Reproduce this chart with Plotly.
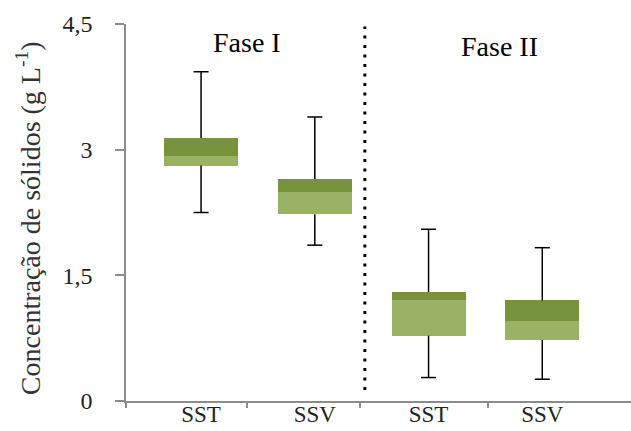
import plotly.graph_objects as go

# Summary statistics of solids concentration (g/L) per phase and fraction
categories = ["SST", "SSV", "SST", "SSV"]
phase_labels = ["Fase I", "Fase II"]
whisker_min = [2.25, 1.86, 0.28, 0.26]
q1 = [2.81, 2.23, 0.78, 0.73]
median = [2.92, 2.49, 1.20, 0.95]
q3 = [3.14, 2.65, 1.30, 1.20]
whisker_max = [3.93, 3.39, 2.05, 1.83]
y_tick_values = [0, 1.5, 3, 4.5]
y_tick_text = ["0", "1,5", "3", "4,5"]

DARK = "#77933C"
LIGHT = "#9AB265"
AXIS = "#8c8c8c"
FONT = "Liberation Serif"

xpos = list(range(len(categories)))
box_width = 0.65
cap_half = 0.066

fig = go.Figure()

# Lower half of the box (Q1 -> median)
fig.add_trace(go.Bar(x=xpos, y=[m - a for m, a in zip(median, q1)], base=q1, width=box_width,
                     marker=dict(color=LIGHT, line_width=0), showlegend=False))
# Upper half of the box (median -> Q3)
fig.add_trace(go.Bar(x=xpos, y=[b - m for b, m in zip(q3, median)], base=median, width=box_width,
                     marker=dict(color=DARK, line_width=0), showlegend=False))

# Whiskers with end caps
wx, wy = [], []
for x, lo, a, b, hi in zip(xpos, whisker_min, q1, q3, whisker_max):
    wx += [x, x, None, x, x, None, x - cap_half, x + cap_half, None, x - cap_half, x + cap_half, None]
    wy += [lo, a, None, b, hi, None, hi, hi, None, lo, lo, None]
fig.add_trace(go.Scatter(x=wx, y=wy, mode="lines", line=dict(color="black", width=1.5),
                         hoverinfo="skip", showlegend=False))

# Dotted divider between the two phases
fig.add_shape(type="line", x0=1.44, x1=1.44, y0=0.13, y1=4.47, xref="x", yref="y",
              line=dict(color="black", width=3, dash="3px,6.5px"))

# Phase titles
fig.add_annotation(x=0.4, y=4.28, xref="x", yref="y", text=phase_labels[0], showarrow=False,
                   font=dict(family=FONT, size=28, color="black"))
fig.add_annotation(x=2.62, y=4.23, xref="x", yref="y", text=phase_labels[1], showarrow=False,
                   font=dict(family=FONT, size=28, color="black"))

# Y axis title
fig.add_annotation(x=0, y=0.485, xref="paper", yref="paper", xshift=-98, textangle=-90,
                   text="Concentração de sólidos (g L<sup>-1</sup>)", showarrow=False,
                   xanchor="center", yanchor="middle",
                   font=dict(family=FONT, size=28, color="#333333"))

fig.update_layout(
    width=631, height=431,
    margin=dict(l=126, r=0, t=24, b=30, autoexpand=False),
    plot_bgcolor="white", paper_bgcolor="white",
    barmode="overlay", bargap=0,
    font=dict(family=FONT, size=24, color="#222222"),
    xaxis=dict(range=[-0.66, 3.78], tickvals=xpos, ticktext=categories, automargin=False,
               showline=True, linecolor=AXIS, linewidth=1.5, ticks="", ticklabelstandoff=-8,
               showgrid=False, zeroline=False, tickfont=dict(size=23)),
    xaxis2=dict(range=[-0.66, 3.78], overlaying="x", side="bottom", anchor="y",
                tickvals=[-0.66, 0.4, 1.4, 2.52], showticklabels=False, automargin=False,
                ticks="outside", ticklen=6, tickcolor=AXIS, tickwidth=1.5,
                showgrid=False, zeroline=False, showline=False),
    yaxis=dict(range=[0, 4.5], tickvals=y_tick_values, ticktext=y_tick_text, automargin=False,
               showline=True, linecolor=AXIS, linewidth=1.5, ticks="outside",
               ticklen=9, tickcolor=AXIS, tickwidth=1.5, showgrid=False,
               zeroline=False, ticklabelstandoff=18, tickfont=dict(size=24)),
)

# Empty trace to attach the boundary-tick axis
fig.add_trace(go.Scatter(x=[None], y=[None], xaxis="x2", showlegend=False, hoverinfo="skip"))

fig.write_html("out.html")
